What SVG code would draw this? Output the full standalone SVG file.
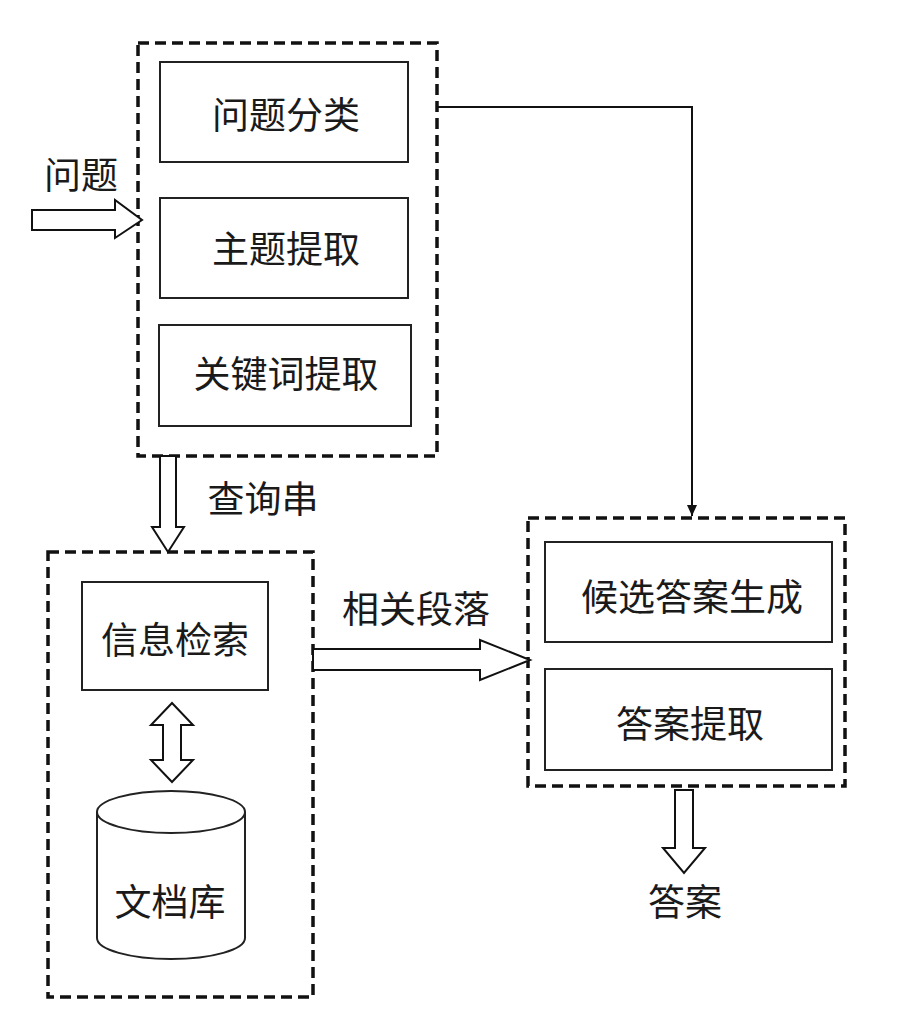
<svg xmlns="http://www.w3.org/2000/svg" width="900" height="1024" viewBox="0 0 900 1024">
<style>
.group{fill:none;stroke:#111;stroke-width:3.5;stroke-dasharray:11 6}
.box{fill:#fff;stroke:#222;stroke-width:2}
.t{font-family:"Noto Sans CJK SC","Noto Sans CJK JP",sans-serif;font-size:37px;fill:#1a1a1a;text-anchor:middle;dominant-baseline:central}
.hollow{fill:#fff;stroke:#111;stroke-width:2;stroke-linejoin:miter}
.line{fill:none;stroke:#111;stroke-width:2}
</style>
<defs>
<marker id="ah" markerWidth="12" markerHeight="12" refX="11" refY="6" orient="auto" markerUnits="userSpaceOnUse">
<path d="M0,1 L11,6 L0,11 Z" fill="#111"/>
</marker>
</defs>
<rect width="900" height="1024" fill="#fff"/>

<g id="question-group">
<rect class="group" x="138" y="43" width="299" height="413"/>
</g>
<g id="q-classify">
<rect class="box" x="160" y="62" width="248" height="100"/>
<text class="t" x="286" y="113">问题分类</text>
</g>
<g id="topic-extract">
<rect class="box" x="160" y="198" width="248" height="100"/>
<text class="t" x="286" y="247">主题提取</text>
</g>
<g id="keyword-extract">
<rect class="box" x="159" y="325" width="252" height="101"/>
<text class="t" x="286" y="372">关键词提取</text>
</g>

<g id="retrieval-group">
<rect class="group" x="48" y="552" width="265" height="445"/>
</g>
<g id="info-retrieval">
<rect class="box" x="82" y="582" width="186" height="108"/>
<text class="t" x="175" y="638">信息检索</text>
</g>
<g id="doc-db">
<path class="box" d="M97,812 L97,938 A74,21 0 0 0 245,938 L245,812"/>
<ellipse class="box" cx="171" cy="812" rx="74" ry="21"/>
<text class="t" x="170" y="900">文档库</text>
</g>

<g id="answer-group">
<rect class="group" x="528" y="518" width="317" height="268"/>
</g>
<g id="candidate-gen">
<rect class="box" x="545" y="542" width="287" height="100"/>
<text class="t" x="692" y="595">候选答案生成</text>
</g>
<g id="answer-extract">
<rect class="box" x="545" y="669" width="287" height="101"/>
<text class="t" x="690" y="722">答案提取</text>
</g>

<g id="connectors">
<path class="hollow" d="M32,210 L115,210 L115,200 L142,220 L115,238 L115,230 L32,230 Z"/>
<path class="hollow" d="M160,456 L176,456 L176,527 L184,527 L168,552 L152,527 L160,527 Z"/>
<path class="hollow" d="M163,725 L151,725 L172,703 L193,725 L181,725 L181,760 L193,760 L172,782 L151,760 L163,760 Z"/>
<path class="hollow" d="M313,649 L480,649 L480,640 L530,660 L480,680 L480,670 L313,670 Z"/>
<path class="hollow" d="M675,790 L693,790 L693,848 L705,848 L684,873 L663,848 L675,848 Z"/>
<path class="line" d="M437,107 L692,107 L692,516" marker-end="url(#ah)"/>
</g>

<g id="labels">
<text class="t" x="81" y="173">问题</text>
<text class="t" x="263" y="497">查询串</text>
<text class="t" x="416" y="607">相关段落</text>
<text class="t" x="685" y="900">答案</text>
</g>
</svg>
